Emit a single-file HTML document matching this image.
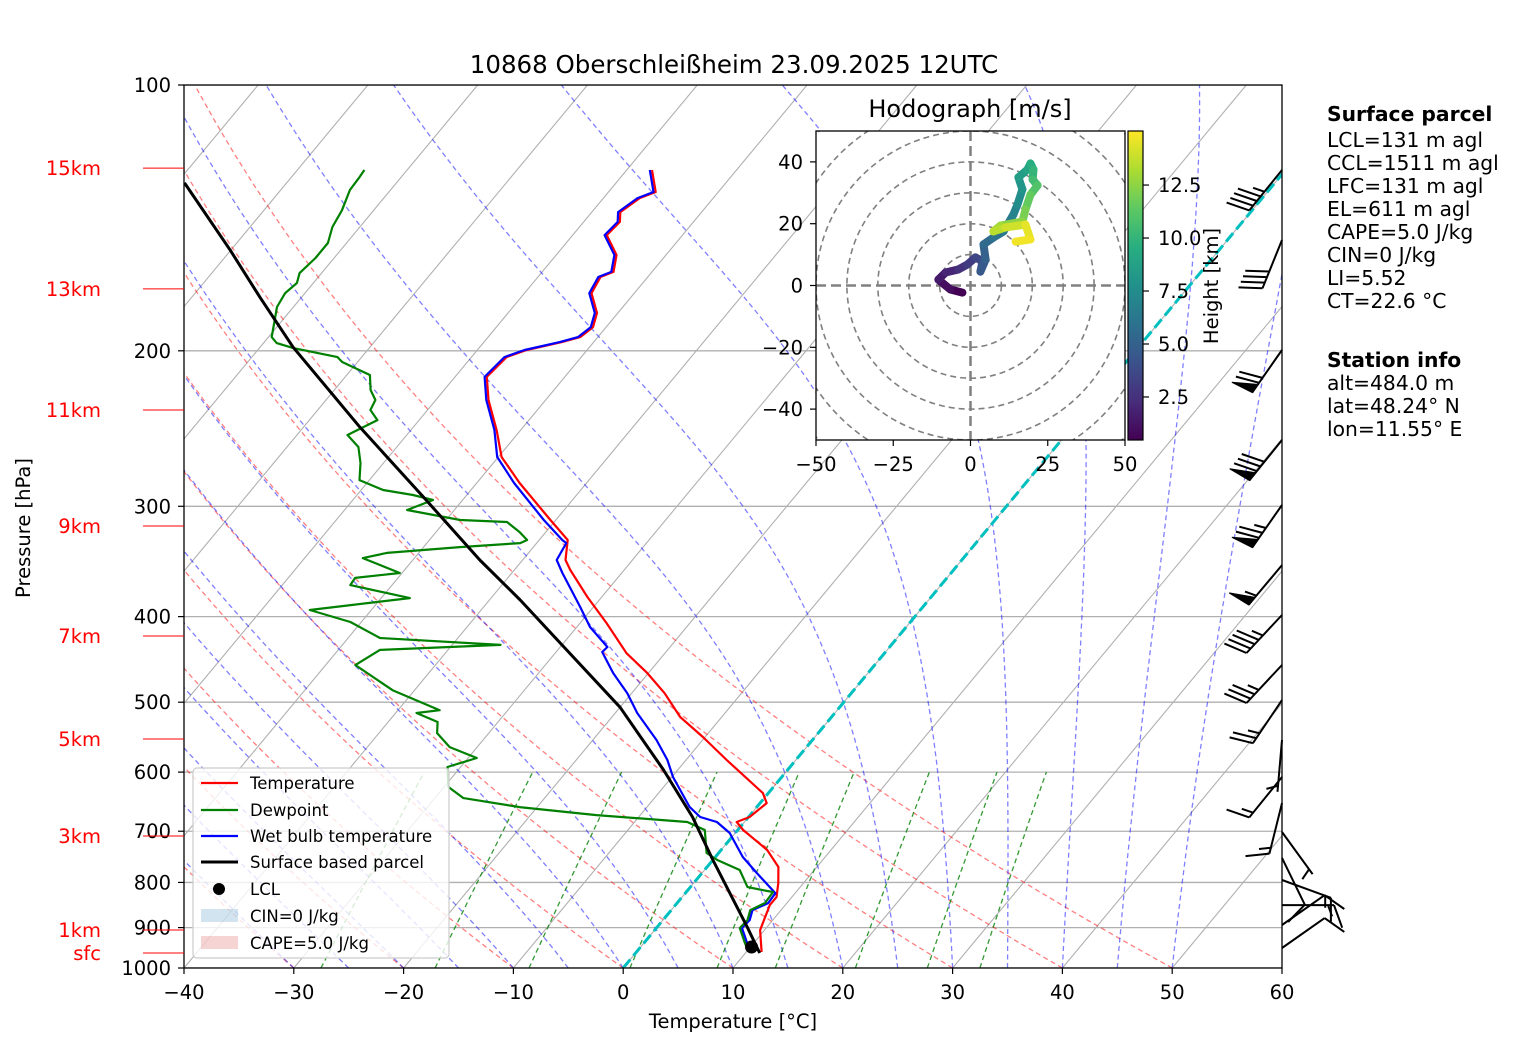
<!DOCTYPE html>
<html><head><meta charset="utf-8">
<style>
html,body{margin:0;padding:0;background:#fff;}
svg{display:block;font-family:"DejaVu Sans","Liberation Sans",sans-serif;}
</style></head>
<body>
<svg id="fig" width="1517" height="1054" viewBox="0 0 1517 1054" xmlns="http://www.w3.org/2000/svg">
<defs>
<clipPath id="axclip"><rect x="184" y="85" width="1098" height="883"/></clipPath>
<clipPath id="hodoclip"><rect x="816" y="131" width="309" height="309"/></clipPath>
<linearGradient id="viridis" x1="0" y1="1" x2="0" y2="0">
<stop offset="0" stop-color="#440154"/><stop offset="0.125" stop-color="#472d7b"/><stop offset="0.25" stop-color="#3b528b"/><stop offset="0.375" stop-color="#2c728e"/><stop offset="0.5" stop-color="#21918c"/><stop offset="0.625" stop-color="#28ae80"/><stop offset="0.75" stop-color="#5ec962"/><stop offset="0.875" stop-color="#addc30"/><stop offset="1" stop-color="#fde725"/>
</linearGradient>
</defs>
<rect x="0" y="0" width="1517" height="1054" fill="#fff"/>
<g id="bg" clip-path="url(#axclip)"></g>
<g id="profiles" clip-path="url(#axclip)"></g>
<rect x="184" y="85" width="1098" height="883" fill="none" stroke="#000" stroke-width="1.3"/>
<g id="ticks"></g>
<g id="barbs"></g>

<text x="734" y="73" font-size="24.5" text-anchor="middle">10868 Oberschleißheim 23.09.2025 12UTC</text>
<text x="733" y="1028" font-size="19.5" text-anchor="middle">Temperature [°C]</text>
<text transform="translate(30,528) rotate(-90)" font-size="19.5" text-anchor="middle">Pressure [hPa]</text>

<!-- legend -->
<g>
<rect x="193" y="768" width="256" height="190" rx="4" fill="rgba(255,255,255,0.8)" stroke="#ccc" stroke-width="1.2"/>
<line x1="201" y1="783" x2="238" y2="783" stroke="#ff0000" stroke-width="2.2"/>
<text x="250" y="789" font-size="16.5">Temperature</text>
<line x1="201" y1="810" x2="238" y2="810" stroke="#008000" stroke-width="2.2"/>
<text x="250" y="816" font-size="16.5">Dewpoint</text>
<line x1="201" y1="836" x2="238" y2="836" stroke="#0000ff" stroke-width="2.2"/>
<text x="250" y="842" font-size="16.5">Wet bulb temperature</text>
<line x1="201" y1="862" x2="238" y2="862" stroke="#000" stroke-width="3"/>
<text x="250" y="868" font-size="16.5">Surface based parcel</text>
<circle cx="219" cy="889" r="6" fill="#000"/>
<text x="250" y="895" font-size="16.5">LCL</text>
<rect x="201" y="909" width="37" height="13" fill="#1f77b4" fill-opacity="0.2"/>
<text x="250" y="922" font-size="16.5">CIN=0 J/kg</text>
<rect x="201" y="936" width="37" height="13" fill="#d62728" fill-opacity="0.2"/>
<text x="250" y="949" font-size="16.5">CAPE=5.0 J/kg</text>
</g>

<!-- hodograph -->
<rect x="816" y="131" width="309" height="309" fill="#fff"/>
<g id="hodo" clip-path="url(#hodoclip)"></g>
<rect x="816" y="131" width="309" height="309" fill="none" stroke="#000" stroke-width="1.3"/>
<text x="970" y="117" font-size="24" text-anchor="middle">Hodograph [m/s]</text>
<g id="hodoticks"></g>
<rect x="1128" y="131" width="15" height="309" fill="url(#viridis)" stroke="#000" stroke-width="1.2"/>
<g id="cbticks"></g>
<text transform="translate(1218,286) rotate(-90)" font-size="19.5" text-anchor="middle">Height [km]</text>

<!-- info text -->
<g font-size="20.3">
<text x="1327" y="121" font-weight="bold">Surface parcel</text>
<text x="1327" y="147">LCL=131 m agl</text>
<text x="1327" y="170">CCL=1511 m agl</text>
<text x="1327" y="193">LFC=131 m agl</text>
<text x="1327" y="216">EL=611 m agl</text>
<text x="1327" y="239">CAPE=5.0 J/kg</text>
<text x="1327" y="262">CIN=0 J/kg</text>
<text x="1327" y="285">LI=5.52</text>
<text x="1327" y="308">CT=22.6 °C</text>
</g>
<g font-size="20.3">
<text x="1327" y="367" font-weight="bold">Station info</text>
<text x="1327" y="390">alt=484.0 m</text>
<text x="1327" y="413">lat=48.24° N</text>
<text x="1327" y="436">lon=11.55° E</text>
</g>
</svg>

<script>
// ---------- data ----------
const tempP = [124.8,132.2,134.3,139.3,142.9,147.9,155.8,162.8,165.0,172.1,181.2,188.0,193.0,195.5,199.6,203.3,214.1,227.4,245.9,263.8,282.3,310.9,327.6,345.1,354.2,380.1,406.7,440.0,463.5,488.4,519.6,547.5,581.3,633.8,650.5,674.5,683.4,697.8,735.2,768.5,801.3,831.2,848.8,905.8,959.2];
const tempT = [-57.7,-55.7,-56.7,-57.4,-56.7,-56.9,-54.5,-53.5,-54.3,-53.9,-51.9,-51.2,-51.6,-52.9,-55.5,-56.8,-57.1,-55.2,-52.2,-49.7,-46.1,-40.5,-37.4,-36.1,-34.9,-31.3,-27.6,-23.5,-20.1,-17.0,-13.8,-10.2,-6.3,-0.5,0.6,0.1,-0.7,0.5,4.2,6.5,7.7,8.6,8.6,9.6,11.4];
const wbP = [124.8,132.2,134.3,139.3,142.9,147.9,155.8,162.8,165.0,172.1,181.2,188.0,193.0,195.5,199.6,203.3,214.1,227.4,245.9,263.8,282.3,310.9,327.6,330.2,345.1,357.0,390.1,411.0,433.0,438.7,463.5,488.4,514.3,551.8,581.3,607.7,657.4,674.5,683.4,703.3,748.6,780.7,822.7,844.4,859.9,882.6,901.0,937.0,954.1];
const wbT = [-57.9,-55.9,-56.9,-57.6,-56.9,-57.1,-54.7,-53.7,-54.5,-54.1,-52.1,-51.4,-51.8,-53.1,-55.7,-57.0,-57.3,-55.4,-52.4,-50.1,-46.6,-41.1,-37.9,-37.3,-36.9,-35.4,-31.2,-28.8,-25.7,-25.8,-23.2,-20.4,-18.0,-14.2,-11.7,-9.9,-6.1,-4.4,-2.5,-0.5,2.5,5.0,8.2,8.3,7.4,7.9,7.8,9.4,10.5];
const dewP = [124.8,127.2,131.5,138.6,144.8,151.0,157.0,163.3,167.6,172.1,178.4,193.0,196.0,198.6,203.3,205.9,213.0,221.5,227.4,233.4,239.6,249.1,257.0,268.0,280.2,287.5,291.3,295.1,302.9,310.9,312.5,320.8,327.6,330.2,333.7,338.8,343.4,357.0,361.6,368.4,381.1,393.2,405.6,422.9,430.6,436.3,453.8,484.6,510.6,514.3,526.5,542.0,562.1,578.4,592.1,623.7,642.1,657.4,671.2,683.4,697.8,740.9,754.5,774.5,809.7,820.4,844.4,859.9,882.6,901.0,937.0,954.1];
const dewT = [-83.9,-83.8,-83.7,-82.9,-82.5,-81.7,-81.7,-82.0,-81.5,-81.8,-81.5,-79.7,-78.8,-76.9,-72.2,-71.4,-67.9,-66.7,-65.5,-65.2,-63.8,-65.4,-63.5,-62.1,-60.9,-58.0,-54.9,-52.7,-54.3,-48.7,-44.3,-42.4,-41.1,-41.5,-46.7,-52.9,-54.7,-50.2,-53.9,-53.8,-47.4,-55.6,-51.0,-47.1,-35.6,-46.2,-47.3,-42.0,-36.2,-38.1,-35.5,-34.7,-32.5,-29.2,-31.2,-29.6,-27.4,-21.6,-14.0,-5.2,-3.0,-1.1,0.4,3.2,5.2,7.9,8.0,7.2,7.7,7.6,9.2,10.0];
const parcelP = [129.1,153.7,173.9,198.1,243.9,292.8,345.1,383.0,436.3,506.6,596.6,674.5,754.5,898.7,961.6];
const parcelT = [-99.3,-90.1,-83.8,-77.0,-64.9,-53.8,-43.9,-37.2,-29.2,-20.0,-11.3,-5.1,0.0,8.2,11.3];
const lclP = 946.7;
const lclT = 10.1;
const hodoH = [0.5,1.0,1.5,2.0,2.5,3.0,3.5,4.0,4.5,5.0,5.5,6.0,6.5,7.0,7.5,8.0,8.5,9.0,9.5,10.0,10.5,11.0,11.5,12.0,12.5,13.0,13.5,14.0,14.5,14.8,15.0];
const hodoU = [-2.6,-6.5,-10.4,-8.1,-3.9,-1.0,1.6,3.9,3.2,4.9,4.2,7.4,10.7,13.9,15.2,16.8,15.5,18.4,19.4,20.4,20.1,21.7,19.4,17.8,16.8,9.7,7.4,11.3,17.8,19.4,14.6];
const hodoV = [-2.3,-1.3,1.9,4.2,5.2,6.8,9.1,7.8,4.5,8.4,13.3,15.5,17.5,23.0,26.2,31.1,35.0,37.5,39.5,37.5,34.3,32.4,29.4,24.6,20.7,19.4,17.5,18.8,19.7,14.9,14.2];
const barbP = [124.8,149.8,199.6,252.4,299.0,349.7,398.3,453.8,497.3,551.8,607.7,650.5,701.5,750.5,794.9,848.8,894.0,949.1];
const barbSpd = [45,40,70,80,75,55,45,35,25,5,15,15,5,10,15,15,10,10];
const barbDir = [219,202,215,219,215,220,223,223,214,185,219,194,144,154,110,90,55,55];
const xTicks = [-40,-30,-20,-10,0,10,20,30,40,50,60];
const pTicks = [100,200,300,400,500,600,700,800,900,1000];
const kmLabels = ['15km','13km','11km','9km','7km','5km','3km','1km','sfc'];
const kmP = [124.2,170.2,233.4,315.8,420.7,550.4,708.8,905.8,961.6];
const hodoTicks = [-50,-25,0,25,50];
const hodoYTicks = [-40,-20,0,20,40];
const cbTicks = [2.5,5.0,7.5,10.0,12.5];

// ---------- helpers ----------
const NS='http://www.w3.org/2000/svg';
function mk(tag, attrs, parent){const e=document.createElementNS(NS,tag);for(const k in attrs)e.setAttribute(k,attrs[k]);parent.appendChild(e);return e;}
function yP(p){return 85+883*Math.log10(p/100);}
function xT(T,p){return 184+(T+40)*10.98+0.83*(968-yP(p));}
function pathFrom(Ps,Ts){return Ps.map((p,i)=>(i?'L':'M')+xT(Ts[i],p).toFixed(1)+','+yP(p).toFixed(1)).join('');}
const bg=document.getElementById('bg');
const prof=document.getElementById('profiles');

pTicks.forEach(p=>{
  const l=mk('line',{x1:184,x2:1282,y1:yP(p),y2:yP(p),stroke:'#b0b0b0','stroke-width':1.3},bg);
  
  
});
for(let T=-130;T<=60;T+=10){
  const l=mk('line',{x1:xT(T,1000),y1:yP(1000),x2:xT(T,100),y2:yP(100),stroke:'#b0b0b0','stroke-width':1.1},bg);
  
  
}
const pLev=[];for(let p=1000;p>=100;p-=10)pLev.push(p);
for(let th=-30;th<=50;th+=10){
  const Ts=pLev.map(p=>(th+273.15)*Math.pow(p/1000,0.2857)-273.15);
  const e=mk('path',{d:pathFrom(pLev,Ts),fill:'none',stroke:'#ff0000','stroke-opacity':0.5,'stroke-width':1.3,'stroke-dasharray':'5,3.5'},bg);
  
  
}
function dTdp(T,p){const Rd=287.04,cp=1005.7,Lv=2.501e6,eps=0.622;const es=6.112*Math.exp(17.67*(T-273.15)/(T-29.65));const rs=eps*es/(p-es);return ((Rd*T+Lv*rs)/p)/(cp+(Lv*Lv*rs*eps)/(Rd*T*T));}
for(let t0=-30;t0<=50;t0+=5){
  let T=t0+273.15;const Ps=[],Ts=[];
  for(let p=1000;p>=100;p-=5){Ps.push(p);Ts.push(T-273.15);const k1=dTdp(T,p);const k2=dTdp(T-2.5*k1,p-2.5);T-=5*k2;}
  const e=mk('path',{d:pathFrom(Ps,Ts),fill:'none',stroke:'#0000ff','stroke-opacity':0.5,'stroke-width':1.3,'stroke-dasharray':'5,3.5'},bg);
  
  
}
[0.0004,0.001,0.002,0.004,0.007,0.01,0.016,0.024,0.032].forEach(w=>{
  const Ps=[],Ts=[];
  for(let p=1000;p>=600;p-=20){const e=p*w/(0.622+w);const a=Math.log(e/6.112);Ps.push(p);Ts.push(243.5*a/(17.67-a));}
  const e=mk('path',{d:pathFrom(Ps,Ts),fill:'none',stroke:'#008000','stroke-opacity':0.8,'stroke-width':1.3,'stroke-dasharray':'5,3.5'},bg);
  
  
});
const zc=mk('line',{x1:xT(0,1000),y1:yP(1000),x2:xT(0,100),y2:yP(100),stroke:'#00bfbf','stroke-width':3,'stroke-dasharray':'11,5'},bg);



const tLine=mk('path',{d:pathFrom(tempP,tempT),fill:'none',stroke:'#ff0000','stroke-width':2.2,'stroke-linejoin':'round'},prof);


const wLine=mk('path',{d:pathFrom(wbP,wbT),fill:'none',stroke:'#0000ff','stroke-width':2.2,'stroke-linejoin':'round'},prof);


const dLine=mk('path',{d:pathFrom(dewP,dewT),fill:'none',stroke:'#008000','stroke-width':2.2,'stroke-linejoin':'round'},prof);


const pLine=mk('path',{d:pathFrom(parcelP,parcelT),fill:'none',stroke:'#000','stroke-width':3,'stroke-linejoin':'round'},prof);


const lcl=mk('circle',{cx:xT(lclT,lclP),cy:yP(lclP),r:6.5,fill:'#000'},prof);



const tk=document.getElementById('ticks');
xTicks.forEach(T=>{
  const x=184+(T+40)*10.98;
  const l=mk('line',{x1:x,x2:x,y1:968,y2:974,stroke:'#000','stroke-width':1.2},tk);
  
  
  const t=mk('text',{x:x,y:999,'font-size':19.5,'text-anchor':'middle'},tk);
  t.textContent=(T<0?'\u2212'+(-T):String(T));
  
  
});
pTicks.forEach(p=>{
  const y=yP(p);
  const l=mk('line',{x1:178,x2:184,y1:y,y2:y,stroke:'#000','stroke-width':1.2},tk);
  
  
  const t=mk('text',{x:171,y:y+7,'font-size':19.5,'text-anchor':'end'},tk);
  t.textContent=String(p);
  
  
});
kmLabels.forEach((s,i)=>{
  const y=yP(kmP[i]);
  const l=mk('line',{x1:143,x2:184,y1:y,y2:y,stroke:'#ff0000','stroke-width':1},tk);
  
  
  const t=mk('text',{x:101,y:y+7,'font-size':19.5,'text-anchor':'end',fill:'#ff0000'},tk);
  t.textContent=s;
  
  
});

const bb=document.getElementById('barbs');
function rot(v,a){const c=Math.cos(a),s=Math.sin(a);return [v[0]*c-v[1]*s,v[0]*s+v[1]*c];}
barbP.forEach((p,i)=>{
  const g=mk('g',{},bb);
  
  
  const bx=1282,by=yP(p),L=52,a=barbDir[i]*Math.PI/180;
  const d=[Math.sin(a),-Math.cos(a)];
  const tip=[bx+d[0]*L,by+d[1]*L];
  const b=rot(d,70*Math.PI/180);const bl=24;
  let path='M'+bx+','+by.toFixed(1)+'L'+tip[0].toFixed(1)+','+tip[1].toFixed(1);
  let s=Math.round(barbSpd[i]/5)*5;let pos=0;const sp=6;
  let flags=Math.floor(s/50);s-=flags*50;let full=Math.floor(s/10);s-=full*10;let half=s>=5;
  let fill='';
  for(let f=0;f<flags;f++){
    const P=[tip[0]-d[0]*pos,tip[1]-d[1]*pos];const Q=[P[0]-d[0]*10,P[1]-d[1]*10];
    const A=[P[0]+b[0]*bl-d[0]*5,P[1]+b[1]*bl-d[1]*5];
    fill+='M'+P[0].toFixed(1)+','+P[1].toFixed(1)+'L'+A[0].toFixed(1)+','+A[1].toFixed(1)+'L'+Q[0].toFixed(1)+','+Q[1].toFixed(1)+'Z';
    pos+=12;
  }
  if(flags===0&&full===0&&half)pos+=sp;
  for(let f=0;f<full;f++){
    const P=[tip[0]-d[0]*pos,tip[1]-d[1]*pos];
    path+='M'+P[0].toFixed(1)+','+P[1].toFixed(1)+'l'+(b[0]*bl).toFixed(1)+','+(b[1]*bl).toFixed(1);
    pos+=sp;
  }
  if(half){const P=[tip[0]-d[0]*pos,tip[1]-d[1]*pos];path+='M'+P[0].toFixed(1)+','+P[1].toFixed(1)+'l'+(b[0]*bl/2).toFixed(1)+','+(b[1]*bl/2).toFixed(1);}
  const pe=mk('path',{d:path,fill:'none',stroke:'#000','stroke-width':2},g);
  
  
  if(fill){const fe=mk('path',{d:fill,fill:'#000',stroke:'#000','stroke-width':1},g);
    
    }
});

const hg=document.getElementById('hodo');
const HC=[970.5,285.5],HS=3.09;
function hx(u){return HC[0]+u*HS;} function hy(v){return HC[1]-v*HS;}
for(let r=10;r<=80;r+=10){
  const c=mk('circle',{cx:HC[0],cy:HC[1],r:r*HS,fill:'none',stroke:'#808080','stroke-width':1.6,'stroke-dasharray':'6,4'},hg);
  
  
}
const ha=mk('path',{d:'M816,'+HC[1]+'H1125M'+HC[0]+',131V440',stroke:'#808080','stroke-width':2.5,'stroke-dasharray':'10,5',fill:'none'},hg);


const vir=['#440154','#472d7b','#3b528b','#2c728e','#21918c','#28ae80','#5ec962','#addc30','#fde725'];
function hex2(h){return [parseInt(h.substr(1,2),16),parseInt(h.substr(3,2),16),parseInt(h.substr(5,2),16)];}
function viridis(t){t=Math.max(0,Math.min(1,t))*8;const i=Math.min(7,Math.floor(t)),f=t-i;const a=hex2(vir[i]),b=hex2(vir[i+1]);return 'rgb('+a.map((v,k)=>Math.round(v+(b[k]-v)*f)).join(',')+')';}
const hMin=0.47,hMax=15.05;
for(let i=0;i<hodoH.length-1;i++){
  const s=mk('line',{x1:hx(hodoU[i]),y1:hy(hodoV[i]),x2:hx(hodoU[i+1]),y2:hy(hodoV[i+1]),stroke:viridis((hodoH[i]-hMin)/(hMax-hMin)),'stroke-width':8,'stroke-linecap':'round'},hg);
  
  
}
const ht=document.getElementById('hodoticks');
hodoTicks.forEach(u=>{
  const x=hx(u);
  const l=mk('line',{x1:x,x2:x,y1:440,y2:446,stroke:'#000','stroke-width':1.2},ht);
  
  
  const t=mk('text',{x:x,y:471,'font-size':19.5,'text-anchor':'middle'},ht);
  t.textContent=(u<0?'\u2212'+(-u):String(u));
  
  
});
hodoYTicks.forEach(v=>{
  const y=hy(v);
  const l=mk('line',{x1:810,x2:816,y1:y,y2:y,stroke:'#000','stroke-width':1.2},ht);
  
  
  const t=mk('text',{x:803,y:y+7,'font-size':19.5,'text-anchor':'end'},ht);
  t.textContent=(v<0?'\u2212'+(-v):String(v));
  
  
});
const cb=document.getElementById('cbticks');
cbTicks.forEach(h=>{
  const y=440-(h-hMin)/(hMax-hMin)*309;
  const l=mk('line',{x1:1143,x2:1149,y1:y,y2:y,stroke:'#000','stroke-width':1.2},cb);
  
  
  const t=mk('text',{x:1158,y:y+7,'font-size':19.5},cb);
  t.textContent=h.toFixed(1);
  
  
});
</script>
</body></html>
